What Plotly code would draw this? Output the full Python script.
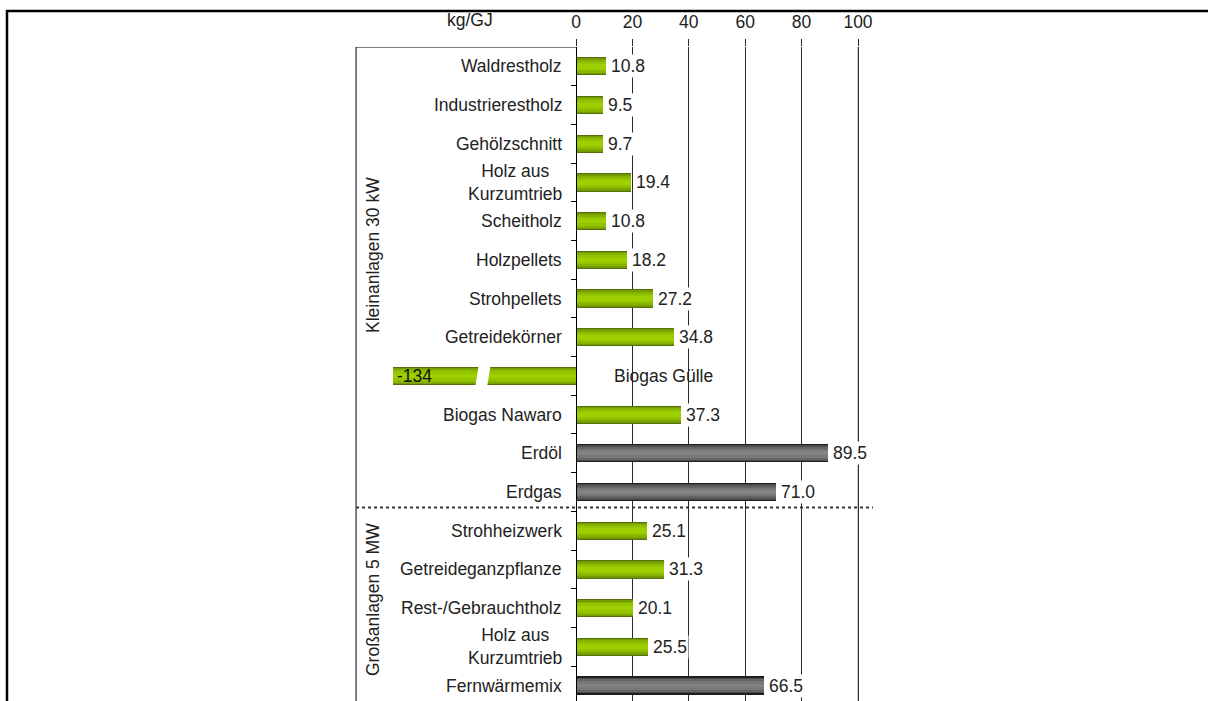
import plotly.graph_objects as go

# ---- data -------------------------------------------------------------
categories = [
    "Waldrestholz", "Industrierestholz", "Gehölzschnitt", "Holz aus<br>Kurzumtrieb",
    "Scheitholz", "Holzpellets", "Strohpellets", "Getreidekörner", "Biogas Gülle",
    "Biogas Nawaro", "Erdöl", "Erdgas",
    "Strohheizwerk", "Getreideganzpflanze", "Rest-/Gebrauchtholz",
    "Holz aus<br>Kurzumtrieb", "Fernwärmemix",
]
values = [10.8, 9.5, 9.7, 19.4, 10.8, 18.2, 27.2, 34.8, -134.0,
          37.3, 89.5, 71.0, 25.1, 31.3, 20.1, 25.5, 66.5]
fossil = [False] * 10 + [True, True] + [False] * 4 + [True]
group_labels = ["Kleinanlagen 30 kW", "Großanlagen 5 MW"]
x_ticks = [0, 20, 40, 60, 80, 100]
unit_label = "kg/GJ"

# ---- axis break for values far below zero -----------------------------
BREAK_AT = -35.0      # values beyond this are shortened
BREAK_SKIP = 69.0     # amount of axis cut out by the break
BREAK_POS = -33.0     # where the break mark sits on the bar


def shown(v):
    return v + BREAK_SKIP if v < BREAK_AT else v


pos = list(range(len(categories)))
disp = [shown(v) for v in values]

# ---- page geometry ----------------------------------------------------
W, H = 1208, 701
ML, MR, MT, MB = 340, 328, 47, 0
PW, PH = W - ML - MR, H - MT - MB
X_RANGE = [-83.69, 107.8]
Y_RANGE = [16.4, -0.5]
FRAME_X = -78.0
SEP_Y = 11.4


def px_x(px):
    return (px - ML) / PW


def px_y(py):
    return 1 - (py - MT) / PH


FONT = "Liberation Sans, Arial, sans-serif"
FS = 17.5
TXT = "#222222"

# bar shading layers (outer -> inner) to give the rounded look
GREEN_LAYERS = [(0.47, "#55700a"), (0.42, "#739a00"), (0.34, "#86b300"),
                (0.24, "#94c400"), (0.12, "#9dd000")]
GREY_LAYERS = [(0.47, "#1c1c1c"), (0.41, "#4e4e4e"), (0.32, "#656565"),
               (0.22, "#777777"), (0.10, "#838383")]

fig = go.Figure()
for g, k in zip(GREEN_LAYERS, GREY_LAYERS):
    fig.add_trace(go.Bar(
        x=disp, y=pos, orientation="h",
        width=[k[0] if f else g[0] for f in fossil],
        marker=dict(color=[k[1] if f else g[1] for f in fossil], line=dict(width=0)),
        hoverinfo="skip", showlegend=False,
    ))

annotations = []
# category labels
for i, (c, v) in enumerate(zip(categories, values)):
    if v < 0:
        annotations.append(dict(x=0, y=i, xref="x", yref="y", text=c, showarrow=False,
                                xanchor="left", xshift=36, font=dict(size=FS, color=TXT)))
    else:
        annotations.append(dict(x=0, y=i, xref="x", yref="y", text=c, showarrow=False,
                                xanchor="right", xshift=-12, align="center",
                                font=dict(size=FS, color=TXT)))
# value labels
for i, (v, d) in enumerate(zip(values, disp)):
    if v < 0:
        annotations.append(dict(x=d, y=i, xref="x", yref="y", text=f"{v:.0f}",
                                showarrow=False, xanchor="left", xshift=2,
                                font=dict(size=FS, color="#111111")))
    else:
        annotations.append(dict(x=d, y=i, xref="x", yref="y", text=f"{v:.1f}",
                                showarrow=False, xanchor="left", xshift=3,
                                bgcolor="white", borderpad=1,
                                font=dict(size=FS, color=TXT)))
# group labels
annotations.append(dict(x=px_x(373), y=px_y(255), xref="paper", yref="paper",
                        xanchor="center", yanchor="middle",
                        text=group_labels[0], textangle=-90, showarrow=False,
                        font=dict(size=FS, color=TXT)))
annotations.append(dict(x=px_x(373), y=px_y(600), xref="paper", yref="paper",
                        xanchor="center", yanchor="middle",
                        text=group_labels[1], textangle=-90, showarrow=False,
                        font=dict(size=FS, color=TXT)))
# unit
annotations.append(dict(x=px_x(470), y=px_y(20), xref="paper", yref="paper",
                        xanchor="center", yanchor="middle",
                        text=unit_label, showarrow=False,
                        font=dict(size=FS, color=TXT)))

shapes = [
    # light line at the end of the scale
    dict(type="line", xref="x", yref="paper", x0=100, x1=100, y0=0, y1=1,
         line=dict(color="#9a9a9a", width=1), layer="below"),
    # frame around the label column
    dict(type="line", xref="x", yref="paper", x0=FRAME_X, x1=FRAME_X, y0=0, y1=1,
         line=dict(color="black", width=1)),
    dict(type="line", xref="x", yref="y", x0=FRAME_X, x1=0, y0=-0.5, y1=-0.5,
         line=dict(color="black", width=1)),
    # separator between the two plant sizes
    dict(type="line", xref="x", yref="y", x0=FRAME_X, x1=105.3, y0=SEP_Y, y1=SEP_Y,
         line=dict(color="#333333", width=2, dash="dot")),
    # page border
    dict(type="line", xref="paper", yref="paper", x0=px_x(6), x1=px_x(W + 2),
         y0=px_y(11), y1=px_y(11), line=dict(color="black", width=2.5)),
    dict(type="line", xref="paper", yref="paper", x0=px_x(7), x1=px_x(7),
         y0=px_y(10), y1=px_y(H + 2), line=dict(color="black", width=2.5)),
]

# break mark on the shortened bar
for i, v in enumerate(values):
    if v < BREAK_AT:
        half_gap, slant, h = 2.1, 2.25, 0.3
        yt, yb = i - h, i + h
        path = (f"M {BREAK_POS - half_gap + slant * h},{yt} "
                f"L {BREAK_POS + half_gap + slant * h},{yt} "
                f"L {BREAK_POS + half_gap - slant * h},{yb} "
                f"L {BREAK_POS - half_gap - slant * h},{yb} Z")
        shapes.append(dict(type="path", xref="x", yref="y", path=path,
                           fillcolor="white", line=dict(width=0), layer="above"))

fig.update_layout(
    width=W, height=H,
    margin=dict(l=ML, r=MR, t=MT, b=MB, pad=0),
    paper_bgcolor="white", plot_bgcolor="white",
    barmode="overlay", bargap=0,
    font=dict(family=FONT, size=FS, color=TXT),
    annotations=annotations, shapes=shapes,
    xaxis=dict(
        side="top", range=X_RANGE, tickmode="array", tickvals=x_ticks,
        ticktext=[str(t) for t in x_ticks],
        showgrid=True, gridcolor="#2a2a2a", gridwidth=1,
        ticks="outside", ticklen=7, tickcolor="#2a2a2a", tickwidth=1,
        showline=False, zeroline=False, ticklabelstandoff=4,
        tickfont=dict(size=FS, color=TXT),
    ),
    yaxis=dict(
        range=Y_RANGE, anchor="free",
        position=(0 - X_RANGE[0]) / (X_RANGE[1] - X_RANGE[0]),
        showline=True, linecolor="black", linewidth=1,
        showgrid=False, zeroline=False, showticklabels=False,
        tickmode="array", tickvals=pos, ticks="",
        minor=dict(tickmode="array", tickvals=[p + 0.5 for p in pos[:-1]],
                   ticks="outside", ticklen=5, tickcolor="black", tickwidth=1,
                   showgrid=False),
    ),
)

fig.write_html("out.html")
